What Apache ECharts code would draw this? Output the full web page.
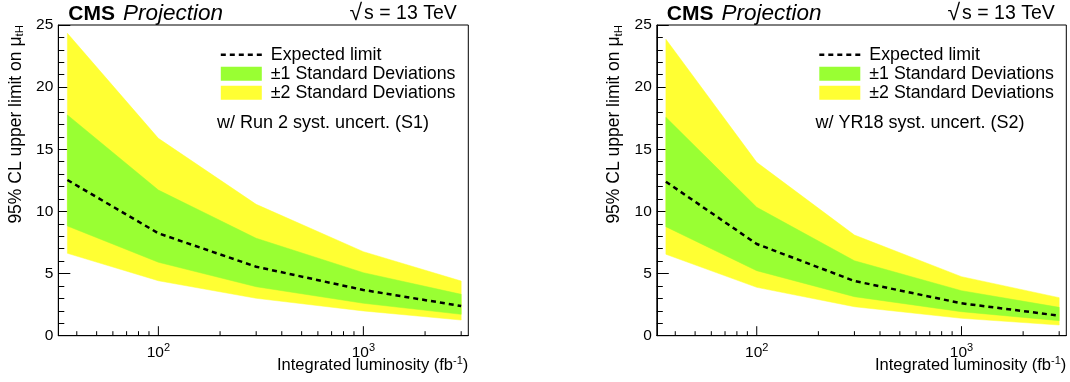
<!DOCTYPE html>
<html>
<head>
<meta charset="utf-8">
<script src="https://cdn.jsdelivr.net/npm/echarts@6/dist/echarts.min.js"></script>
<style>
  html, body { margin: 0; padding: 0; background: #fff; }
  #chart { width: 1070px; height: 382px; }
</style>
</head>
<body>
<div id="chart"></div>
<script>
// ---- data ----
const lumi = [36, 100, 300, 1000, 3000];

const s1Expected = [12.53, 8.24, 5.55, 3.68, 2.39];
const s1Sig1Up   = [17.76, 11.72, 7.84, 5.07, 3.33];
const s1Sig1Down = [8.83, 5.91, 3.94, 2.61, 1.72];
const s1Sig2Up   = [24.33, 15.88, 10.57, 6.76, 4.40];
const s1Sig2Down = [6.63, 4.42, 3.01, 1.99, 1.26];

const s2Expected = [12.39, 7.38, 4.40, 2.61, 1.61];
const s2Sig1Up   = [17.57, 10.33, 6.03, 3.62, 2.28];
const s2Sig1Down = [8.77, 5.23, 3.14, 1.93, 1.21];
const s2Sig2Up   = [23.85, 13.95, 8.10, 4.75, 3.06];
const s2Sig2Down = [6.55, 3.89, 2.33, 1.40, 0.86];

const xTickValues = [40, 50, 60, 70, 80, 90, 100, 200, 300, 400, 500, 600, 700, 800, 900, 1000, 2000, 3000];
const xMajorTicks = [100, 1000];

const legendNames = ['Expected limit', '\u00b11 Standard Deviations', '\u00b12 Standard Deviations'];
const scenarioLabels = ['w/ Run 2 syst. uncert. (S1)', 'w/ YR18 syst. uncert. (S2)'];

// ---- layout / style ----
const FONT = 'Liberation Sans';
const YELLOW = '#ffff33';
const GREEN = '#99ff33';
const panels = [
  { left: 58.3, width: 410, exp: s1Expected, g1u: s1Sig1Up, g1d: s1Sig1Down, g2u: s1Sig2Up, g2d: s1Sig2Down, label: scenarioLabels[0] },
  { left: 656.8, width: 409.5, exp: s2Expected, g1u: s2Sig1Up, g1d: s2Sig1Down, g2u: s2Sig2Up, g2d: s2Sig2Down, label: scenarioLabels[1] }
];
const TOP = 25, HEIGHT = 310.7;

// dashed-line legend icon (two tiny corner specks fix the 41x14 box)
const DASH_ICON = 'path://M0,0L0.01,0L0,0.01Z M41,14L40.99,14L41,13.99Z ' +
  'M0,5.75h5v2.5h-5Z M9,5.75h5v2.5h-5Z M18,5.75h5v2.5h-5Z M27,5.75h5v2.5h-5Z M36,5.75h5v2.5h-5Z';

const zip = (xs, ys) => xs.map((x, i) => [x, ys[i]]);
const bandRows = (xs, lo, hi) => xs.map((x, i) => [x, lo[i], hi[i]]);

// band polygon drawn through the axis scales (api.coord)
function bandRenderer(color) {
  return (params, api) => {
    if (params.dataIndexInside !== 0) return null;
    const n = params.dataInsideLength;
    const upper = [], lower = [];
    for (let k = 0; k < n; k++) {
      const x = api.value(0, k);
      lower.push(api.coord([x, api.value(1, k)]));
      upper.push(api.coord([x, api.value(2, k)]));
    }
    const pts = lower.concat(upper.reverse());
    return { type: 'polygon', shape: { points: pts }, style: { fill: color, stroke: color, lineWidth: 0.5 } };
  };
}

const grid = [], xAxis = [], yAxis = [], series = [], legend = [], graphic = [];

panels.forEach((p, i) => {
  grid.push({
    left: p.left, top: TOP, width: p.width, height: HEIGHT,
    show: true, borderColor: '#000', borderWidth: 1, backgroundColor: 'transparent',
    containLabel: false, outerBoundsMode: 'none', z: 0
  });
  xAxis.push({
    type: 'log', logBase: 10, gridIndex: i, min: 32.5, max: 3250,
    axisLine: { show: true, onZero: false, lineStyle: { color: '#000', width: 1 } },
    axisTick: { show: false },
    minorTick: { show: false },
    splitLine: { show: false },
    axisLabel: {
      margin: 7, color: '#000', fontFamily: FONT, fontSize: 15.5,
      showMinLabel: true, showMaxLabel: true, hideOverlap: false,
      formatter: (v) => {
        const l = Math.log10(v);
        if (Math.abs(l - Math.round(l)) < 1e-6 && v > 50 && v < 2000) return '10{sup|' + Math.round(l) + '}';
        return '';
      },
      rich: { sup: { fontSize: 11, fontFamily: FONT, color: '#000', padding: [0, 0, 9, 0] } }
    }
  });
  yAxis.push({
    type: 'value', gridIndex: i, min: 0, max: 25, interval: 5,
    axisLine: { show: true, lineStyle: { color: '#000', width: 1 } },
    axisTick: { show: true, inside: true, length: 12, lineStyle: { color: '#000', width: 1 } },
    minorTick: { show: true, splitNumber: 5, length: 6, lineStyle: { color: '#000', width: 1 } },
    splitLine: { show: false },
    minorSplitLine: { show: false },
    axisLabel: { margin: 5, color: '#000', fontFamily: FONT, fontSize: 15.5 }
  });

  series.push({
    type: 'custom', name: legendNames[2], xAxisIndex: i, yAxisIndex: i, silent: true, animation: false,
    clip: true, itemStyle: { color: YELLOW }, color: YELLOW,
    encode: { x: 0, y: [1, 2] },
    data: bandRows(lumi, p.g2d, p.g2u),
    renderItem: bandRenderer(YELLOW), z: 1
  });
  series.push({
    type: 'custom', name: legendNames[1], xAxisIndex: i, yAxisIndex: i, silent: true, animation: false,
    clip: true, itemStyle: { color: GREEN }, color: GREEN,
    encode: { x: 0, y: [1, 2] },
    data: bandRows(lumi, p.g1d, p.g1u),
    renderItem: bandRenderer(GREEN), z: 2
  });
  series.push({
    type: 'line', name: legendNames[0], xAxisIndex: i, yAxisIndex: i,
    symbol: 'none', showSymbol: false, silent: true, smooth: false, animation: false,
    data: zip(lumi, p.exp), color: '#000',
    itemStyle: { color: '#000' },
    lineStyle: { color: '#000', width: 2.5, type: [5, 4] }, z: 3
  });
  series.push({
    type: 'custom', xAxisIndex: i, yAxisIndex: i, silent: true, animation: false, clip: false,
    data: xTickValues.map(v => [v, xMajorTicks.includes(v) ? 1 : 0]),
    renderItem: (params, api) => {
      const pt = api.coord([api.value(0), 0]);
      const len = api.value(1) ? 9.5 : 4.5;
      return { type: 'line', shape: { x1: pt[0], y1: pt[1], x2: pt[0], y2: pt[1] - len }, style: { stroke: '#000', lineWidth: 1 } };
    }, z: 4
  });

  legend.push({
    show: true, orient: 'vertical', left: p.left + 162.5, top: 45.7, padding: 0,
    itemWidth: 41, itemHeight: 14, itemGap: 1, selectedMode: false,
    textStyle: { fontFamily: FONT, fontSize: 17.8, color: '#000', padding: [0, 0, 0, 4] },
    data: [
      { name: legendNames[0], icon: DASH_ICON, itemStyle: { color: '#000', borderWidth: 0 } },
      { name: legendNames[1], icon: 'rect', itemStyle: { color: GREEN, borderWidth: 0 } },
      { name: legendNames[2], icon: 'rect', itemStyle: { color: YELLOW, borderWidth: 0 } }
    ]
  });

  const dx = p.left - 58.3;
  const right = p.left + p.width;
  graphic.push({
    type: 'text', x: 68.3 + dx, y: 14, silent: true,
    style: {
      text: '{b|CMS}{i|Projection}', align: 'left', verticalAlign: 'middle',
      textAlign: 'left', textVerticalAlign: 'middle', fill: '#000',
      font: '20px "Liberation Sans"',
      rich: {
        b: { fontFamily: FONT, fontWeight: 'bold', fontSize: 21, fill: '#000' },
        i: { fontFamily: FONT, fontStyle: 'italic', fontSize: 22.5, fill: '#000', padding: [0, 0, 0, 8] }
      }
    }
  });
  graphic.push({
    type: 'text', x: right - 11.5, y: 14, silent: true,
    style: {
      text: '{r|\u221A}{s|s = 13 TeV}', align: 'right', verticalAlign: 'middle',
      textAlign: 'right', textVerticalAlign: 'middle', fill: '#000',
      font: '19.5px "Liberation Sans"',
      rich: {
        r: { fontFamily: FONT, fontSize: 23, fill: '#000' },
        s: { fontFamily: FONT, fontSize: 19.5, fill: '#000', padding: [0, 0, 0, 2] }
      }
    }
  });
  graphic.push({
    type: 'text', x: 217 + dx, y: 123.5, silent: true,
    style: {
      text: p.label, align: 'left', verticalAlign: 'middle',
      textAlign: 'left', textVerticalAlign: 'middle', fill: '#000',
      font: '18px "Liberation Sans"'
    }
  });
  graphic.push({
    type: 'text', x: right, y: 365, silent: true,
    style: {
      text: 'Integrated luminosity (fb{sup|-1})', align: 'right', verticalAlign: 'middle',
      textAlign: 'right', textVerticalAlign: 'middle', fill: '#000',
      font: '16.5px "Liberation Sans"',
      rich: { sup: { fontFamily: FONT, fontSize: 11, fill: '#000', padding: [0, 0, 9, 0] } }
    }
  });
  graphic.push({
    type: 'text', x: 15.7 + dx, y: 25, rotation: Math.PI / 2, silent: true,
    style: {
      text: '95% CL upper limit on \u03bc{sub|tH}', align: 'right', verticalAlign: 'middle',
      textAlign: 'right', textVerticalAlign: 'middle', fill: '#000',
      font: '17.5px "Liberation Sans"',
      rich: { sub: { fontFamily: FONT, fontSize: 11.5, fill: '#000', padding: [9, 0, 0, 0] } }
    }
  });
});

const chart = echarts.init(document.getElementById('chart'), null, { renderer: 'canvas' });
chart.setOption({
  animation: false,
  backgroundColor: '#fff',
  textStyle: { fontFamily: FONT },
  grid, xAxis, yAxis, series, legend, graphic
});
</script>
</body>
</html>
